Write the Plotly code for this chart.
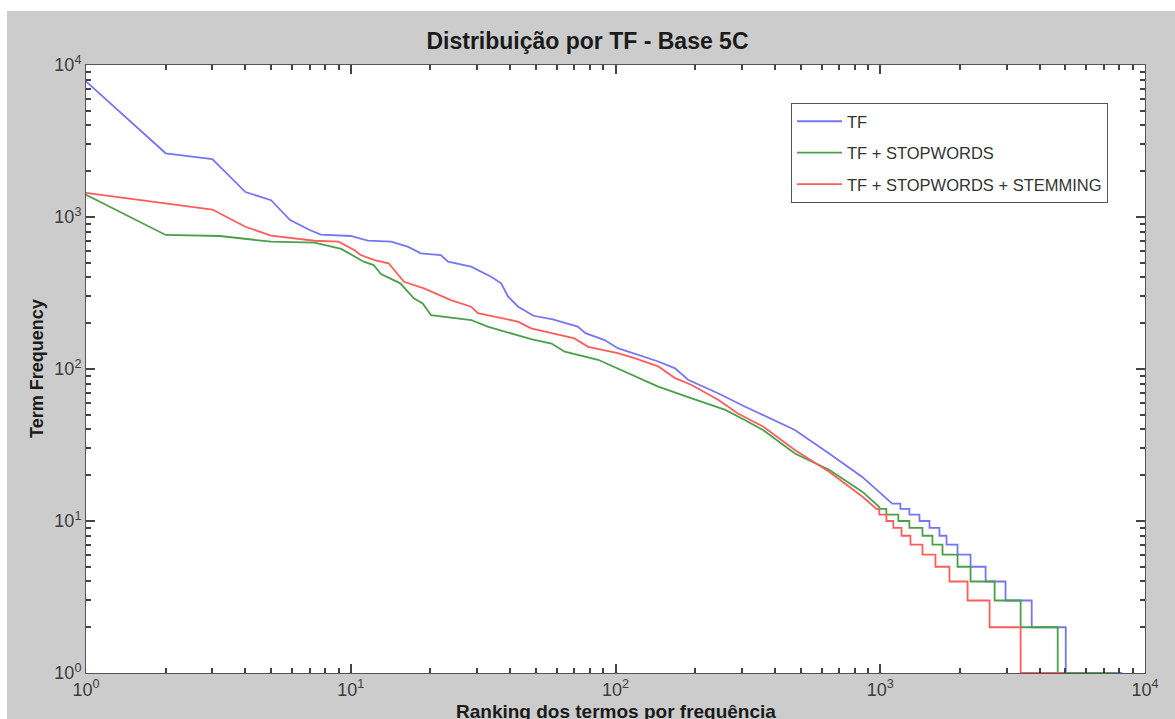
import plotly.graph_objects as go

# ---- data (rank, term frequency) ----
tf_rank = [1, 2, 3, 4, 5, 5.9, 7, 7.7, 10, 11.6, 14.2, 16.4, 18.4, 21.9, 23.3, 28.5, 33.9, 37, 39.3, 42.9,
           49, 58, 72, 77, 91, 102, 145, 168, 188, 245, 309, 385, 476, 641, 855,
           1110, 1191, 1192, 1288, 1289, 1406, 1407, 1534, 1535, 1673, 1674, 1779, 1780, 1958, 1959,
           2193, 2194, 2500, 2501, 2973, 2974, 3733, 3734, 5020, 5021, 8200]
tf_freq = [7800, 2625, 2400, 1460, 1290, 955, 821, 766, 750, 698, 688, 638, 577, 562, 508, 471, 405, 366, 299, 257,
           224, 212, 190, 172, 155, 137, 112, 101, 85, 69, 56.5, 47.4, 39.7, 27.8, 19.5,
           13, 13, 12, 12, 11, 11, 10, 10, 9, 9, 8, 8, 7, 7, 6,
           6, 5, 5, 4, 4, 3, 3, 2, 2, 1, 1]

sw_rank = [1, 2, 3.2, 5, 7.3, 8.6, 9.2, 11.2, 12.2, 13, 15.4, 17.3, 18.7, 20.1, 28.5, 32.9, 42.8, 48, 57.3,
           64.3, 86, 108, 145, 194, 260, 309, 362, 476, 641, 855, 990,
           1000, 1054, 1055, 1170, 1171, 1288, 1289, 1443, 1444, 1574, 1575, 1718, 1719, 1958, 1959,
           2193, 2194, 2704, 2705, 3390, 3391, 4680, 4681, 7700]
sw_freq = [1400, 762, 750, 688, 678, 638, 617, 508, 483, 422, 366, 292, 270, 226, 210, 190, 167, 157, 147,
           130, 115, 96, 76.5, 64, 53.8, 46, 39.5, 27.8, 21.7, 15.6, 12.4,
           12, 12, 11, 11, 10, 10, 9, 9, 8, 8, 7, 7, 6, 6, 5,
           5, 4, 4, 3, 3, 2, 2, 1, 1]

st_rank = [1, 3, 4, 5, 7.3, 9, 10.3, 10.9, 12.3, 13.9, 15.9, 18.9, 23.9, 28.5, 30.2, 36, 42.8, 48, 57.3,
           70, 78.8, 102, 118, 145, 168, 194, 245, 290, 362, 476, 641, 855, 962,
           965, 991, 992, 1054, 1055, 1120, 1121, 1203, 1204, 1300, 1301, 1443, 1444, 1616, 1617,
           1825, 1826, 2137, 2138, 2588, 2589, 3390, 3391, 5000]
st_freq = [1440, 1120, 863, 755, 698, 688, 606, 562, 521, 496, 375, 339, 284, 257, 233, 219, 205, 185, 172,
           159, 140, 127, 118, 104, 87, 78.5, 62.5, 51, 41.7, 29.3, 21.1, 14.5, 12.1,
           12, 12, 11, 11, 10, 10, 9, 9, 8, 8, 7, 7, 6, 6, 5,
           5, 4, 4, 3, 3, 2, 2, 1, 1]

series_names = ["TF", "TF + STOPWORDS", "TF + STOPWORDS + STEMMING"]
series_colors = ["#7575f6", "#4a9f4a", "#ff5c5c"]

decade_vals = [1, 10, 100, 1000, 10000]
decade_text = ["10<sup>0</sup>", "10<sup>1</sup>", "10<sup>2</sup>", "10<sup>3</sup>", "10<sup>4</sup>"]

fig = go.Figure()
for i, (rk, fq, nm, col) in enumerate(zip([tf_rank, sw_rank, st_rank], [tf_freq, sw_freq, st_freq],
                                          series_names, series_colors)):
    fig.add_trace(go.Scatter(x=rk, y=fq, mode="lines", name=nm, legendgroup="g%d" % i,
                             line=dict(color=col, width=1.8)))
# invisible copy on the overlaid (top/right) axes so that their box ticks are drawn
fig.add_trace(go.Scatter(x=tf_rank, y=tf_freq, mode="lines", xaxis="x2", yaxis="y2",
                         opacity=0, showlegend=False, hoverinfo="skip", line=dict(width=1)))

TC = "#444444"
tf_font = dict(family="Liberation Sans, Arial, sans-serif", size=18, color="#3c3c3c")


def main_axis():
    return dict(type="log", range=[0, 4], tickmode="array", tickvals=decade_vals, ticktext=decade_text,
                ticks="inside", ticklen=9, tickwidth=2, tickcolor=TC, showline=True, linecolor="#555555",
                showgrid=False, tickfont=tf_font,
                minor=dict(ticks="inside", ticklen=5, tickcolor=TC, dtick="D1"))


def box_axis(over, side):
    return dict(type="log", range=[0, 4], overlaying=over, side=side, showticklabels=False,
                tickmode="array", tickvals=decade_vals, ticks="inside", ticklen=9, tickwidth=2,
                tickcolor=TC, showline=True, linecolor="#555555", showgrid=False,
                minor=dict(ticks="inside", ticklen=5, tickcolor=TC, dtick="D1"))


W, H = 1175, 719
L, R, T, B = 86, 30, 65, 46
pw, ph = W - L - R, H - T - B

fig.update_layout(
    xaxis=main_axis(),
    yaxis=main_axis(),
    xaxis2=box_axis("x", "top"),
    yaxis2=box_axis("y", "right"),
    width=W, height=H,
    margin=dict(l=L, r=R, t=T, b=B, pad=0),
    paper_bgcolor="#cccccc", plot_bgcolor="white",
    font=dict(family="Liberation Sans, Arial, sans-serif", color="#222222"),
    title=dict(text="<b>Distribuição por TF - Base 5C</b>", x=0.5, xanchor="center",
               y=1 - 41 / H, yanchor="middle",
               font=dict(size=23, color="#1a1a1a")),
    showlegend=True,
    legend=dict(x=(791 - L) / pw, y=(H - B - 103) / ph, xanchor="left", yanchor="top",
                bgcolor="white", bordercolor="#555555", borderwidth=1,
                font=dict(size=16.5, color="#333333"), itemwidth=45,
                tracegroupgap=7),
    annotations=[
        dict(text="<b>Term Frequency</b>", xref="paper", yref="paper",
             x=(37 - L) / pw, y=0.5, xanchor="center", yanchor="middle",
             textangle=-90, showarrow=False, font=dict(size=18, color="#1a1a1a")),
        dict(text="<b>Ranking dos termos por frequência</b>", xref="paper", yref="paper",
             x=0.5, y=(H - B - 711) / ph, xanchor="center", yanchor="middle",
             showarrow=False, font=dict(size=19, color="#1a1a1a")),
    ],
    shapes=[
        dict(type="rect", xref="paper", yref="paper", layer="above",
             x0=-0.2, x1=1.2, y0=(H - B - 11) / ph, y1=1.3,
             fillcolor="white", line=dict(width=0)),
        dict(type="rect", xref="paper", yref="paper", layer="above",
             x0=-0.2, x1=(7 - L) / pw, y0=-0.2, y1=1.3,
             fillcolor="white", line=dict(width=0)),
    ],
)

fig.write_html("out.html")
